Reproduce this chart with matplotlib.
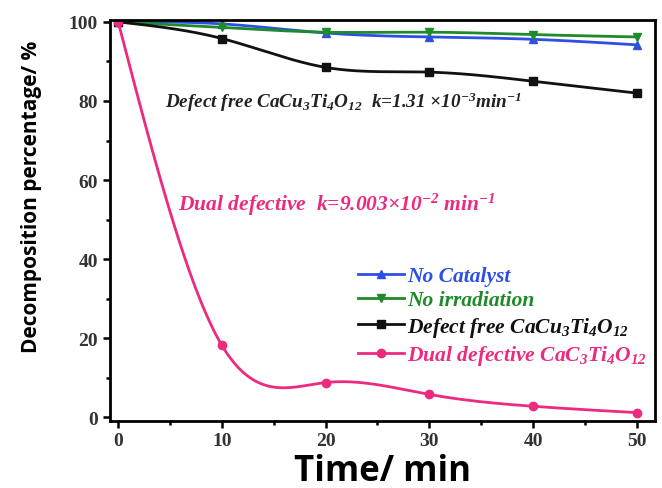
import numpy as np
import matplotlib
matplotlib.use("Agg")
import matplotlib.pyplot as plt
from matplotlib.ticker import MultipleLocator

# data
time_min = [0, 10, 20, 30, 40, 50]
no_catalyst = [100, 99.5, 97.2, 96.2, 95.6, 94.2]
no_irradiation = [100, 98.6, 97.4, 97.4, 96.8, 96.2]
defect_free = [100, 95.8, 88.5, 87.3, 85.0, 82.0]
dual_defective = [100, 18.2, 8.8, 5.8, 2.8, 1.2]

labels = ["No Catalyst", "No irradiation",
          r"Defect free CaCu$_{3}$Ti$_{4}$O$_{12}$",
          r"Dual defective CaC$_{3}$Ti$_{4}$O$_{12}$"]
colors = ["#2d4fe6", "#1f8a2a", "#111111", "#ec2a7f"]
markers = ["^", "v", "s", "o"]

plt.rcParams["mathtext.fontset"] = "custom"
plt.rcParams["mathtext.rm"] = "Liberation Serif:bold:italic"
plt.rcParams["mathtext.it"] = "Liberation Serif:bold:italic"


def natural_spline(x, y, n=300):
    x = np.asarray(x, float)
    y = np.asarray(y, float)
    h = np.diff(x)
    m = len(x)
    A = np.zeros((m, m))
    b = np.zeros(m)
    A[0, 0] = A[-1, -1] = 1
    for i in range(1, m - 1):
        A[i, i - 1] = h[i - 1]
        A[i, i] = 2 * (h[i - 1] + h[i])
        A[i, i + 1] = h[i]
        b[i] = 6 * ((y[i + 1] - y[i]) / h[i] - (y[i] - y[i - 1]) / h[i - 1])
    M = np.linalg.solve(A, b)
    xs = np.linspace(x[0], x[-1], n)
    idx = np.clip(np.searchsorted(x, xs) - 1, 0, m - 2)
    x0, x1 = x[idx], x[idx + 1]
    hh = x1 - x0
    t0, t1 = x1 - xs, xs - x0
    ys = (M[idx] * t0 ** 3 + M[idx + 1] * t1 ** 3) / (6 * hh) \
        + (y[idx] / hh - M[idx] * hh / 6) * t0 \
        + (y[idx + 1] / hh - M[idx + 1] * hh / 6) * t1
    return xs, ys


fig, ax = plt.subplots(figsize=(6.62, 4.89), dpi=100)
fig.subplots_adjust(left=0.166, right=0.99, top=0.958, bottom=0.138)

series = [no_catalyst, no_irradiation, defect_free, dual_defective]
for vals, lab, col, mk in zip(series, labels, colors, markers):
    xs, ys = natural_spline(time_min, vals)
    ax.plot(xs, ys, color=col, lw=2)
    ax.plot(time_min, vals, linestyle="none", marker=mk, color=col, ms=6)
    ax.plot([], [], color=col, lw=2, marker=mk, ms=6, label=lab)

ax.set_xlim(-0.8, 51.8)
ax.set_ylim(-0.8, 100.6)
ax.xaxis.set_major_locator(MultipleLocator(10))
ax.xaxis.set_minor_locator(MultipleLocator(5))
ax.yaxis.set_major_locator(MultipleLocator(20))
ax.yaxis.set_minor_locator(MultipleLocator(10))
ax.tick_params(which="major", direction="out", length=5, width=1.8)
ax.tick_params(which="minor", direction="out", length=3, width=1.8)
for sp in ax.spines.values():
    sp.set_linewidth(2)
for t in ax.get_xticklabels() + ax.get_yticklabels():
    t.set_fontfamily("Liberation Serif")
    t.set_fontweight("bold")
    t.set_fontsize(14)
    t.set_color("#333333")

ax.set_xlabel("Time/ min", fontfamily="Open Sans", fontweight="bold", fontsize=25)
ax.xaxis.set_label_coords(0.5, -0.08)
ax.set_ylabel("Decomposition percentage/ %", fontfamily="Open Sans", fontweight="bold",
              fontsize=15)
ax.yaxis.set_label_coords(-0.125, 0.56)

ax.text(4.5, 78.5, r"Defect free CaCu$_{3}$Ti$_{4}$O$_{12}$  k=1.31 $\times$10$^{-3}$min$^{-1}$",
        fontfamily="Liberation Serif", fontweight="bold", fontstyle="italic",
        fontsize=13.8, color="#222222")
ax.text(5.8, 52.5, r"Dual defective  k=9.003$\times$10$^{-2}$ min$^{-1}$",
        fontfamily="Liberation Serif", fontweight="bold", fontstyle="italic",
        fontsize=15.5, color=colors[3])

leg = ax.legend(loc="lower right", bbox_to_anchor=(1.02, 0.085), frameon=False,
                handlelength=2.1, handletextpad=0.15, labelspacing=0.2,
                prop={"family": "Liberation Serif", "weight": "bold",
                      "style": "italic", "size": 15.5})
for txt, col in zip(leg.get_texts(), colors):
    txt.set_color(col)

fig.savefig("out.png", dpi=100)
